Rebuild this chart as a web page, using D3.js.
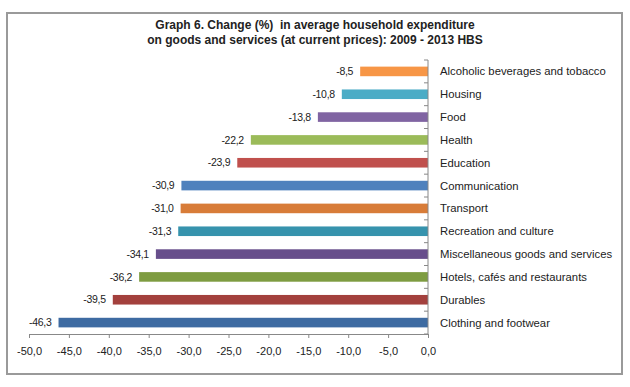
<!DOCTYPE html>
<html>
<head>
<meta charset="utf-8">
<script src="https://cdn.jsdelivr.net/npm/d3@7"></script>
<style>
  body { margin: 0; background: #fff; }
  svg { font-family: "Liberation Sans", Arial, sans-serif; }
  .title { white-space: pre; }
</style>
</head>
<body>
<svg id="chart" width="630" height="387"></svg>
<script>
var categories = [
    'Alcoholic beverages and tobacco', 'Housing', 'Food', 'Health', 'Education',
    'Communication', 'Transport', 'Recreation and culture',
    'Miscellaneous goods and services', 'Hotels, cafés and restaurants',
    'Durables', 'Clothing and footwear'
];
var values = [-8.5, -10.8, -13.8, -22.2, -23.9, -30.9, -31.0, -31.3, -34.1, -36.2, -39.5, -46.3];
var colors = ['#F79646', '#4BACC6', '#8064A2', '#9BBB59', '#C0504D', '#4F81BD',
              '#D87C38', '#3693AD', '#674E8B', '#7E9C41', '#A3403D', '#3E6BA2'];
var xTicks = [-50, -45, -40, -35, -30, -25, -20, -15, -10, -5, 0];
var titleLines = [
    'Graph 6. Change (%)  in average household expenditure',
    'on goods and services (at current prices): 2009 - 2013 HBS'
];

var svg = d3.select('#chart'),
    margin = { left: 29, right: 202, top: 60, bottom: 53 },
    width = 630 - margin.left - margin.right,
    height = 387 - margin.top - margin.bottom,
    fmt = function(v) { return d3.format('.1f')(v).replace('.', ',').replace('−', '-'); };

// frame
svg.append('rect')
    .attr('x', 7).attr('y', 13)
    .attr('width', 615).attr('height', 361)
    .attr('fill', '#fff')
    .attr('stroke', '#9a9a9a')
    .attr('stroke-width', 2);

svg.append('g').selectAll('text')
    .data(titleLines)
    .enter().append('text')
    .attr('class', 'title')
    .attr('x', 315)
    .attr('y', function(d, i) { return 29 + i * 15; })
    .attr('text-anchor', 'middle')
    .attr('font-size', 12)
    .attr('font-weight', 'bold')
    .attr('fill', '#222')
    .text(function(d) { return d; });

var x = d3.scaleLinear().domain([-50, 0]).range([0, width]);
var y = d3.scaleBand().domain(categories).range([0, height]).paddingInner(0.58).paddingOuter(0.29);
var yb = d3.scaleBand().domain(categories).range([0, height]);

var g = svg.append('g').attr('transform', 'translate(' + margin.left + ',' + margin.top + ')');

// bars
g.selectAll('.bar')
    .data(values)
    .enter().append('rect')
    .attr('class', 'bar')
    .attr('x', function(d) { return x(d); })
    .attr('y', function(d, i) { return y(categories[i]); })
    .attr('width', function(d) { return x(0) - x(d); })
    .attr('height', y.bandwidth())
    .attr('fill', function(d, i) { return colors[i]; });

// value labels
g.selectAll('.val')
    .data(values)
    .enter().append('text')
    .attr('class', 'val')
    .attr('x', function(d) { return x(d) - 7; })
    .attr('y', function(d, i) { return y(categories[i]) + y.bandwidth() / 2; })
    .attr('dy', '0.35em')
    .attr('text-anchor', 'end')
    .attr('font-size', 10.5)
    .attr('letter-spacing', -0.3)
    .attr('fill', '#222')
    .text(function(d) { return fmt(d); });

// x axis
var xAxis = g.append('g')
    .attr('transform', 'translate(0,' + height + ')')
    .call(d3.axisBottom(x).tickValues(xTicks).tickSize(4).tickFormat(fmt));
xAxis.select('.domain').attr('stroke', '#888');
xAxis.selectAll('.tick line').attr('stroke', '#888');
xAxis.selectAll('.tick text')
    .attr('font-size', 11)
    .attr('fill', '#222')
    .attr('dy', '1.3em')
    .attr('font-family', '"Liberation Sans", Arial, sans-serif');

// y axis at zero with band boundary ticks
var yAxis = g.append('g').attr('transform', 'translate(' + x(0) + ',0)');
yAxis.append('line')
    .attr('y1', 0).attr('y2', height)
    .attr('stroke', '#888');
yAxis.selectAll('.bt')
    .data(categories.concat(['__end']))
    .enter().append('line')
    .attr('x1', -4).attr('x2', 0)
    .attr('y1', function(d, i) { return i < categories.length ? yb(d) : height; })
    .attr('y2', function(d, i) { return i < categories.length ? yb(d) : height; })
    .attr('stroke', '#888');

// category labels
g.selectAll('.cat')
    .data(categories)
    .enter().append('text')
    .attr('class', 'cat')
    .attr('x', x(0) + 12)
    .attr('y', function(d) { return y(d) + y.bandwidth() / 2; })
    .attr('dy', '0.35em')
    .attr('font-size', 11.3)
    .attr('fill', '#222')
    .text(function(d) { return d; });
</script>
</body>
</html>
